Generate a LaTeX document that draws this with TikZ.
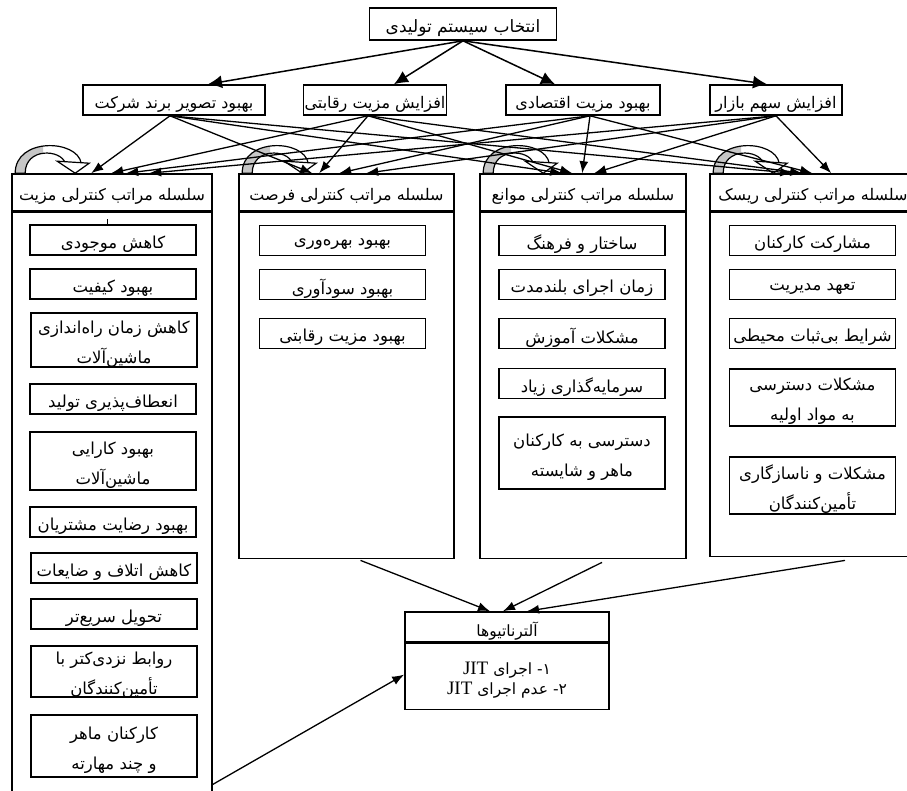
\documentclass[tikz,border=0pt]{standalone}
\usepackage{fontspec}
\setmainfont{Liberation Serif}
\newfontfamily\fa[Script=Arabic]{DejaVu Sans}
\TeXXeTstate=1
\usetikzlibrary{arrows.meta, positioning, calc}
\newcommand{\fatxt}[1]{\raisebox{-4pt}[\height][\depth]{\beginR #1\endR}}
\newcommand{\loopband}{(4,0) .. controls (4,-36) and (66,-34) .. (70,-10) -- (54,-10) .. controls (50,-24) and (14,-26) .. (14,0) -- cycle}

\begin{document}
\begin{tikzpicture}[x=1pt, y=-1pt,
  box/.style={draw, line width=1.6pt, inner sep=1pt, align=center, font=\fa\fontsize{16.5}{30}\selectfont},
  crit/.style={box, minimum height=30pt, font=\fa\fontsize{16}{20}\selectfont},
  colhead/.style={draw, line width=1.6pt, minimum height=37pt, font=\fa\fontsize{16}{18}\selectfont},
  colbody/.style={draw, line width=1.6pt, anchor=north},
  item/.style={box, minimum width=166pt, minimum height=30pt},
  arr/.style={-{Latex[length=12pt,width=9pt]}, line width=1.3pt},
  bigarr/.style={-{Latex[length=14pt,width=13pt]}, line width=1.5pt}]
  \useasboundingbox (0,0) rectangle (907,791);

  % goal and criteria
  \node[crit, minimum width=187pt, minimum height=32pt, font=\fa\fontsize{17}{20}\selectfont] (top) at (463,24) {\fatxt{انتخاب سیستم تولیدی}};
  \node[crit, minimum width=182pt] (lA) at (174,100) {\fatxt{بهبود تصویر برند شرکت}};
  \node[crit, minimum width=142pt] (lB) at (375,100) {\fatxt{افزایش مزیت رقابتی}};
  \node[crit, minimum width=154pt] (lC) at (583,100) {\fatxt{بهبود مزیت اقتصادی}};
  \node[crit, minimum width=132pt] (lD) at (776,100) {\fatxt{افزایش سهم بازار}};

  % the four hierarchies
  \node[colhead, minimum width=200pt] (h1) at (112,192.5) {\fatxt{سلسله مراتب کنترلی مزیت}};
  \node[colbody, minimum width=200pt, minimum height=589pt] (b1) at (h1.south) {};
  \node[colhead, minimum width=215pt] (h2) at (346.5,192.5) {\fatxt{سلسله مراتب کنترلی فرصت}};
  \node[colbody, minimum width=215pt, minimum height=346pt] (b2) at (h2.south) {};
  \node[colhead, minimum width=206pt] (h3) at (583,192.5) {\fatxt{سلسله مراتب کنترلی موانع}};
  \node[colbody, minimum width=206pt, minimum height=346pt] (b3) at (h3.south) {};
  \node[colhead, minimum width=206pt] (h4) at (813,192.5) {\fatxt{سلسله مراتب کنترلی ریسک}};
  \node[colbody, minimum width=206pt, minimum height=344pt] (b4) at (h4.south) {};

  % items of the first column
  \node[item] (m1) at (113,240) {\fatxt{کاهش موجودی}};
  \node[item] (m2) at (113,284) {\fatxt{بهبود کیفیت}};
  \node[item, minimum height=54pt] (m3) at (114,340) {\fatxt{کاهش زمان راه‌اندازی}\\\fatxt{ماشین‌آلات}};
  \node[item] (m4) at (113,399) {\fatxt{انعطاف‌پذیری تولید}};
  \node[item, minimum height=58pt] (m5) at (113,461) {\fatxt{بهبود کارایی}\\\fatxt{ماشین‌آلات}};
  \node[item] (m6) at (113,522) {\fatxt{بهبود رضایت مشتریان}};
  \node[item] (m7) at (114,568) {\fatxt{کاهش اتلاف و ضایعات}};
  \node[item] (m8) at (114,614) {\fatxt{تحویل سریع‌تر}};
  \node[item, minimum height=51pt] (m9) at (114,671.5) {\fatxt{روابط نزدی‌کتر با}\\\fatxt{تأمین‌کنندگان}};
  \node[item, minimum height=62pt] (m10) at (114,746) {\fatxt{کارکنان ماهر}\\\fatxt{و چند مهارته}};
  \draw[line width=1pt] ($(m1.north)+(-6,0)$) -- ++(0,-5);

  % second column
  \node[item] (f1) at (342.5,240.5) {\fatxt{بهبود بهره‌وری}};
  \node[item] (f2) at (342.5,284.5) {\fatxt{بهبود سودآوری}};
  \node[item] (f3) at (342.5,333.5) {\fatxt{بهبود مزیت رقابتی}};

  % third column
  \node[item] (o1) at (582,240.5) {\fatxt{ساختار و فرهنگ}};
  \node[item] (o2) at (582,284.5) {\fatxt{زمان اجرای بلندمدت}};
  \node[item] (o3) at (582,333.5) {\fatxt{مشکلات آموزش}};
  \node[item] (o4) at (582,383.5) {\fatxt{سرمایه‌گذاری زیاد}};
  \node[item, minimum height=72pt] (o5) at (582,453) {\fatxt{دسترسی به کارکنان}\\\fatxt{ماهر و شایسته}};

  % fourth column
  \node[item] (r1) at (812.5,240.5) {\fatxt{مشارکت کارکنان}};
  \node[item] (r2) at (812.5,284.5) {\fatxt{تعهد مدیریت}};
  \node[item] (r3) at (812.5,333.5) {\fatxt{شرایط بی‌ثبات محیطی}};
  \node[item, minimum height=57pt] (r4) at (812.5,397.5) {\fatxt{مشکلات دسترسی}\\\fatxt{به مواد اولیه}};
  \node[item, minimum height=57pt] (r5) at (812.5,485.5) {\fatxt{مشکلات و ناسازگاری}\\\fatxt{تأمین‌کنندگان}};

  % alternatives
  \node[colhead, minimum width=204pt, minimum height=30pt, font=\fa\fontsize{15.5}{18}\selectfont] (alth) at (507,627) {\fatxt{آلترناتیوها}};
  \node[colbody, minimum width=204pt, minimum height=66pt, align=center, font=\fa\fontsize{15.5}{20}\selectfont] (altb) at (alth.south)
    {\fatxt{۱- اجرای \beginL{\rmfamily\fontsize{19}{20}\selectfont JIT}\endL}\\\fatxt{۲- عدم اجرای \beginL{\rmfamily\fontsize{19}{20}\selectfont JIT}\endL}};

  % curved self arrows on the hierarchies
  \foreach \c in {h1,h2,h3,h4} {
    \begin{scope}[shift={(\c.north west)}]
      \fill[white] \loopband;
      \begin{scope}
        \clip (-5,-40) rectangle (32,2);
        \fill[gray!45] \loopband;
      \end{scope}
      \draw[line width=1.2pt] \loopband;
      \filldraw[fill=white, line width=1.2pt] (46,-12) -- (64,0) -- (78,-10) -- cycle;
    \end{scope}
  }

  % goal to criteria
  \draw[bigarr] (top.south) -- ($(lA.north)+(34,0)$);
  \draw[bigarr] (top.south) -- ($(lB.north)+(19,0)$);
  \draw[bigarr] (top.south) -- ($(lC.north)+(-28,0)$);
  \draw[bigarr] (top.south) -- ($(lD.north)+(-9,0)$);

  % criteria to hierarchies
  \foreach \s/\dx/\c/\off in {lA/-4/h1/80, lA/-4/h2/74, lA/-4/h3/83, lA/-4/h4/83,
      lB/-7/h1/100, lB/-7/h2/81, lB/-7/h3/93, lB/-7/h4/93,
      lC/7/h1/115, lC/7/h2/101, lC/7/h3/103, lC/7/h4/103,
      lD/0/h1/138, lD/0/h2/128, lD/0/h3/115, lD/0/h4/122}
    \draw[arr] ($(\s.south)+(\dx,0)$) -- ($(\c.north west)+(\off,0)$);

  % hierarchies to alternatives
  \draw[arr] ($(b1.south east)+(0,-18)$) -- ($(altb.west)+(0,-2)$);
  \draw[arr] ($(b2.south)+(14,1)$) -- ($(alth.north)+(-17,0)$);
  \draw[arr] ($(b3.south)+(19,3)$) -- ($(alth.north)+(-4,0)$);
  \draw[arr] ($(b4.south)+(32,3)$) -- ($(alth.north)+(20,0)$);
\end{tikzpicture}
\end{document}
